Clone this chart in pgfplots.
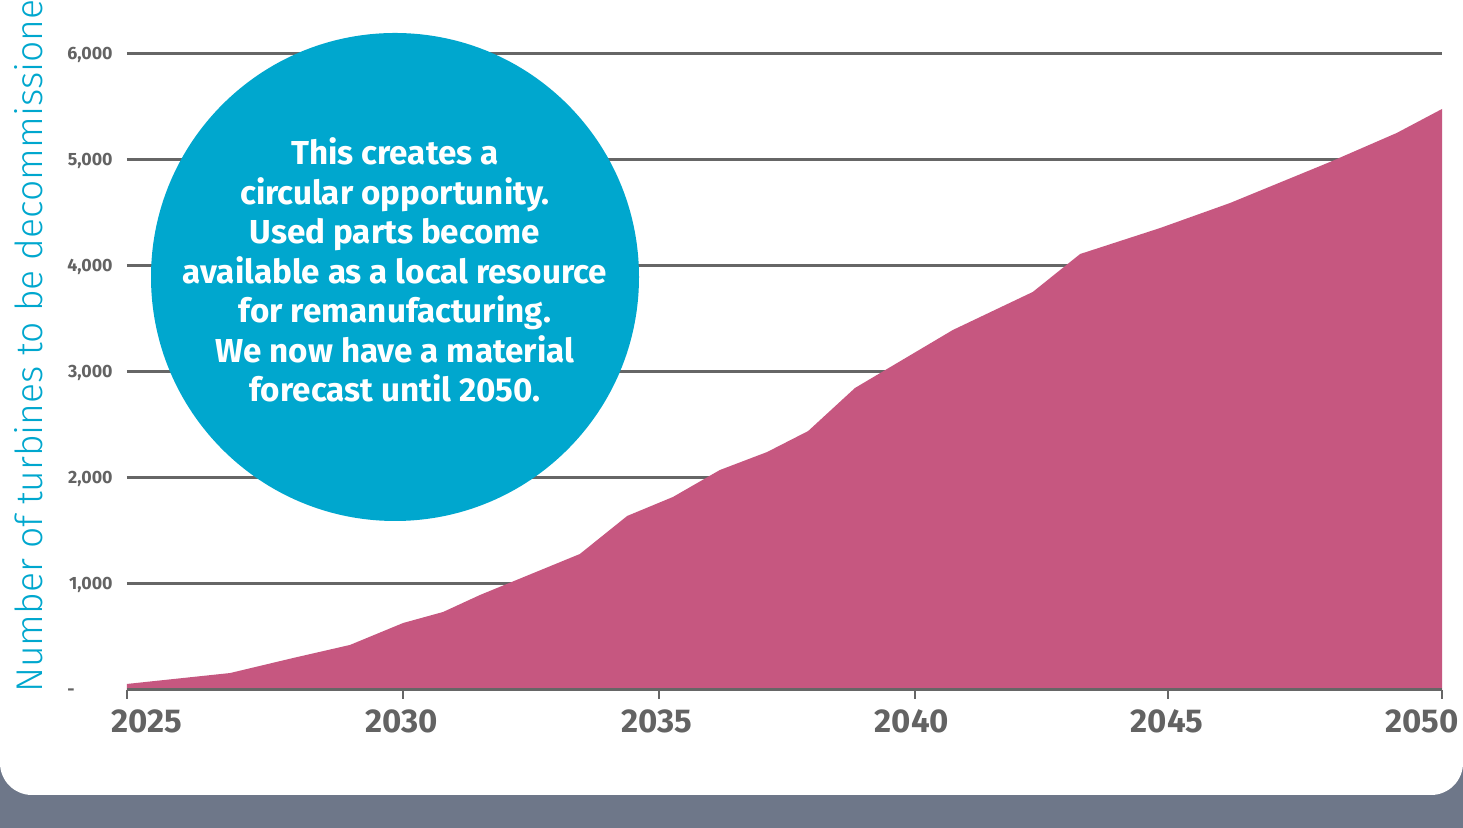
\documentclass[border=0pt]{standalone}
\usepackage{pgfplots}
\pgfplotsset{compat=1.18}
\usepackage{fontspec}
\setmainfont{Fira Sans}
\newfontfamily\lightfont{Fira Sans Light}

\definecolor{pinkc}{RGB}{198,87,128}
\definecolor{cyanc}{RGB}{0,167,206}
\definecolor{gridgray}{RGB}{102,102,102}
\definecolor{labelgray}{RGB}{99,99,99}
\definecolor{bandgray}{RGB}{110,119,137}

\pgfplotstableread{
year   turbines
2025.00 57
2026.96 160
2028.16 302
2029.24 425
2030.25 632
2031.01 736
2031.71 896
2033.61 1283
2034.51 1642
2035.38 1821
2036.27 2075
2037.17 2245
2037.95 2443
2038.84 2849
2040.70 3396
2042.22 3755
2043.12 4113
2044.64 4358
2045.97 4594
2047.87 4981
2049.14 5255
2050.00 5481
}\decom

\begin{document}
\begin{tikzpicture}
% picture = 1463x828 px, 1 px = 0.5pt
\useasboundingbox (0,0) rectangle (731.5pt,414pt);
\clip (0,0) rectangle (731.5pt,414pt);
\fill[bandgray] (0,0) rectangle (731.5pt,414pt);
\fill[white, rounded corners=16pt] (0,16.5pt) rectangle (731.5pt,450pt);

\begin{axis}[
  name=ax,
  at={(63.5pt,69pt)}, anchor=south west,
  scale only axis, width=657.5pt, height=318pt,
  xmin=2025, xmax=2050, ymin=0, ymax=6000,
  axis x line*=bottom, axis y line*=left,
  axis line style={draw=none},
  ymajorgrids, grid style={line width=1.5pt, gridgray},
  ytick={0,1000,2000,3000,4000,5000,6000},
  yticklabels={{-\hspace*{19pt}},{1,000},{2,000},{3,000},{4,000},{5,000},{6,000}},
  ytick style={draw=none},
  yticklabel style={anchor=base east, inner sep=0pt, xshift=-7pt, yshift=-3pt,
    font=\fontsize{8.9}{10}\selectfont\bfseries, text=labelgray},
  xtick={2025.380,2030.228,2035.076,2039.924,2044.772,2049.620},
  xticklabels={2025,2030,2035,2040,2045,2050},
  major tick length=0pt,
  xticklabel style={anchor=base, inner sep=0pt, yshift=-21.5pt,
    font=\fontsize{16.5}{18}\selectfont\bfseries, text=labelgray},
  extra x ticks={2025,2030.247,2035.114,2039.981,2044.791,2050},
  extra x tick labels={},
  extra x tick style={xmajorgrids=false, major tick length=4.5pt, tick align=outside,
    tick style={line width=1pt, gridgray}},
]
\addplot[fill=pinkc, draw=none] table[x=year, y=turbines] {\decom} \closedcycle;
\end{axis}
\draw[line width=1.5pt, gridgray] (ax.south west) -- (ax.south east);

\fill[cyanc] (197.5pt,275.5pt) circle (122pt);
\node[align=center, text=white, font=\fontsize{16.6}{19.75}\selectfont\bfseries]
  at (197.5pt,279pt) {This creates a\\circular opportunity.\\Used parts become\\available as a local resource\\for remanufacturing.\\We now have a material\\forecast until 2050.};

\node[rotate=90, anchor=base west, text=cyanc, inner sep=0pt,
  font=\lightfont\fontsize{18.6}{20}\selectfont] at (21pt,67.5pt)
  {Number of turbines to be decommissioned};
\end{tikzpicture}
\end{document}
